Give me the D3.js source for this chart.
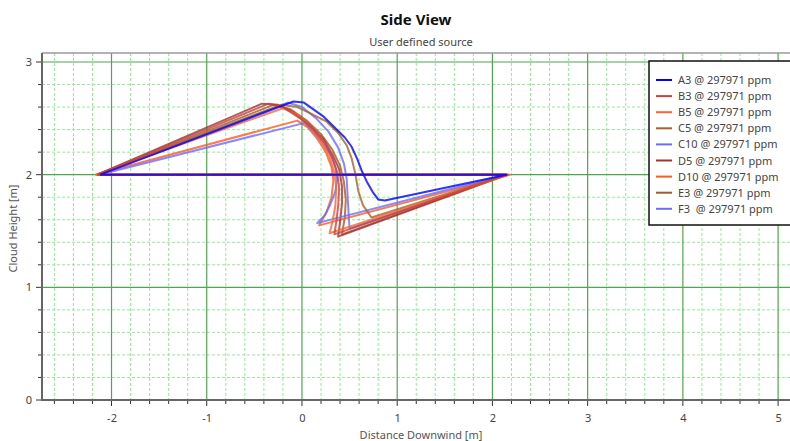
<!DOCTYPE html>
<html>
<head>
    <meta charset="utf-8">
    <title>Side View</title>
    <script src="https://d3js.org/d3.v7.min.js"></script>
    <style>
        body { margin: 0; background: #fff; overflow: hidden; }
        text { font-family: "Noto Sans", "DejaVu Sans", sans-serif; fill: #333; }
        .grid-major { stroke: #4fa64f; stroke-width: 1.2; }
        .grid-minor { stroke: #9ae69a; stroke-width: 1; stroke-dasharray: 3,2; }
        .series { fill: none; stroke-width: 2; stroke-linejoin: round; stroke-opacity: 0.8; }
    </style>
</head>
<body>
<div id="chart"></div>
<script>
    // series names and colours (legend order)
    const seriesNames = ["A3", "B3", "B5", "C5", "C10", "D5", "D10", "E3", "F3 "];
    const seriesColors = ["#0000ff", "#c8413c", "#ff6430", "#a8622e", "#6c6cff", "#a83030", "#ff5a1e", "#9c5a30", "#6c6cff"];
    const ppm = "297971";

    // cloud outline points [distance downwind, height]
    const A3 = [[-2.12,2.0],[-0.09,2.65],[0.02,2.64],[0.12,2.58],[0.22,2.52],[0.33,2.43],[0.45,2.33],[0.52,2.25],[0.58,2.14],[0.63,2.03],[0.68,1.94],[0.74,1.85],[0.80,1.78],[0.87,1.77],[2.15,2.0],[-2.12,2.0]];
    const B3 = [[-2.15,2.0],[-0.35,2.63],[-0.2,2.6],[-0.02,2.5],[0.12,2.4],[0.24,2.28],[0.32,2.15],[0.37,2.02],[0.39,1.88],[0.38,1.72],[0.36,1.58],[0.34,1.47],[2.15,2.0],[-2.15,2.0]];
    const B5 = [[-2.16,2.0],[-0.2,2.59],[-0.06,2.54],[0.08,2.43],[0.2,2.3],[0.29,2.16],[0.34,2.02],[0.36,1.88],[0.35,1.72],[0.32,1.58],[0.29,1.48],[2.17,2.0],[-2.16,2.0]];
    const C5 = [[-2.15,2.0],[-0.22,2.62],[-0.05,2.6],[0.1,2.54],[0.26,2.47],[0.38,2.37],[0.47,2.26],[0.52,2.15],[0.56,2.01],[0.59,1.86],[0.64,1.73],[0.73,1.62],[2.15,2.0],[-2.15,2.0]];
    const C10 = [[-2.13,2.0],[0.03,2.46],[0.12,2.38],[0.22,2.28],[0.3,2.18],[0.35,2.07],[0.37,1.96],[0.35,1.85],[0.3,1.74],[0.24,1.64],[0.16,1.57],[2.14,2.0],[-2.13,2.0]];
    const D5 = [[-2.15,2.0],[-0.42,2.63],[-0.25,2.62],[-0.08,2.55],[0.08,2.44],[0.22,2.32],[0.32,2.18],[0.39,2.05],[0.42,1.9],[0.42,1.74],[0.4,1.58],[0.38,1.45],[2.16,2.0],[-2.15,2.0]];
    const D10 = [[-2.17,2.0],[-0.05,2.48],[0.06,2.42],[0.16,2.32],[0.25,2.2],[0.31,2.07],[0.33,1.95],[0.31,1.8],[0.26,1.67],[0.18,1.55],[2.18,2.0],[-2.17,2.0]];
    const E3 = [[-2.15,2.0],[-0.3,2.62],[-0.12,2.58],[0.05,2.48],[0.2,2.36],[0.32,2.22],[0.4,2.08],[0.44,1.94],[0.46,1.78],[0.45,1.62],[0.42,1.47],[2.15,2.0],[-2.15,2.0]];
    const F3 = [[-2.14,2.0],[-0.15,2.64],[0.0,2.6],[0.15,2.5],[0.28,2.38],[0.38,2.24],[0.44,2.1],[0.47,1.96],[0.48,1.8],[0.49,1.65],[0.5,1.52],[2.15,2.0],[-2.14,2.0]];
    const seriesPoints = [A3, B3, B5, C5, C10, D5, D10, E3, F3];

    // axis ticks
    const xTicks = [-2, -1, 0, 1, 2, 3, 4, 5];
    const yTicks = [0, 1, 2, 3];

    const width = 790, height = 441;
    const plotLeft = 42, plotRight = 800, plotTop = 53, plotBottom = 400;

    const svg = d3.select("#chart").append("svg")
        .attr("width", width)
        .attr("height", height);

    const x = d3.scaleLinear().domain([-2.73, 5.23]).range([plotLeft, plotRight]);
    const y = d3.scaleLinear().domain([0, 3.08]).range([plotBottom, plotTop]);

    // minor grid every 0.2
    const xMinor = d3.range(-2.6, 5.21, 0.2).map(v => +v.toFixed(1)).filter(v => !xTicks.includes(v));
    const yMinor = d3.range(0.2, 3.01, 0.2).map(v => +v.toFixed(1)).filter(v => !yTicks.includes(v));

    svg.append("g").selectAll("line").data(xMinor).enter().append("line")
        .attr("class", "grid-minor")
        .attr("x1", d => x(d)).attr("x2", d => x(d))
        .attr("y1", plotTop).attr("y2", plotBottom);
    svg.append("g").selectAll("line").data(yMinor).enter().append("line")
        .attr("class", "grid-minor")
        .attr("x1", plotLeft).attr("x2", plotRight)
        .attr("y1", d => y(d)).attr("y2", d => y(d));

    // major grid
    svg.append("g").selectAll("line").data(xTicks).enter().append("line")
        .attr("class", "grid-major")
        .attr("x1", d => x(d)).attr("x2", d => x(d))
        .attr("y1", plotTop).attr("y2", plotBottom);
    svg.append("g").selectAll("line").data(yTicks.filter(v => v > 0)).enter().append("line")
        .attr("class", "grid-major")
        .attr("x1", plotLeft).attr("x2", plotRight)
        .attr("y1", d => y(d)).attr("y2", d => y(d));

    // top frame
    svg.append("line")
        .attr("x1", plotLeft).attr("x2", plotRight)
        .attr("y1", plotTop).attr("y2", plotTop)
        .style("stroke", "#9a9a9a").style("stroke-width", 1.5);

    // curves, drawn last-to-first so A3 ends on top
    svg.append("clipPath").attr("id", "plot-clip")
        .append("rect").attr("x", plotLeft).attr("y", plotTop)
        .attr("width", plotRight - plotLeft).attr("height", plotBottom - plotTop);

    const line = d3.line().x(d => x(d[0])).y(d => y(d[1]));
    const plot = svg.append("g").attr("clip-path", "url(#plot-clip)");
    for (let i = seriesPoints.length - 1; i >= 0; i--) {
        plot.append("path")
            .attr("class", "series")
            .attr("d", line(seriesPoints[i]))
            .style("stroke", seriesColors[i]);
    }

    // axes (plain hyphen for negatives, like the original)
    const xAxis = d3.axisBottom(x).tickValues(xTicks).tickSize(0).tickPadding(14).tickFormat(d => String(d));
    const gx = svg.append("g").attr("transform", `translate(0,${plotBottom})`).call(xAxis);
    gx.select(".domain").remove();
    gx.selectAll("text").style("font-size", "11px").style("fill", "#444");

    const yAxis = d3.axisLeft(y).tickValues(yTicks).tickSize(0).tickPadding(10).tickFormat(d => String(d));
    const gy = svg.append("g").attr("transform", `translate(${plotLeft},0)`).call(yAxis);
    gy.select(".domain").remove();
    gy.selectAll("text").style("font-size", "11px").style("fill", "#444");

    // small tick marks every 0.2
    svg.append("g").selectAll("line").data(xMinor.concat(xTicks)).enter().append("line")
        .attr("x1", d => x(d)).attr("x2", d => x(d))
        .attr("y1", plotBottom).attr("y2", d => xTicks.includes(d) ? plotBottom + 6 : plotBottom + 4)
        .style("stroke", "#333").style("stroke-width", 1);
    svg.append("g").selectAll("line").data(yMinor.concat(yTicks)).enter().append("line")
        .attr("x1", d => yTicks.includes(d) ? plotLeft - 6 : plotLeft - 4).attr("x2", plotLeft)
        .attr("y1", d => y(d)).attr("y2", d => y(d))
        .style("stroke", "#333").style("stroke-width", 1);

    // axis lines
    svg.append("line")
        .attr("x1", plotLeft).attr("x2", plotRight).attr("y1", plotBottom).attr("y2", plotBottom)
        .style("stroke", "#666").style("stroke-width", 2);
    svg.append("line")
        .attr("x1", plotLeft).attr("x2", plotLeft).attr("y1", plotTop).attr("y2", plotBottom + 1)
        .style("stroke", "#666").style("stroke-width", 2);

    // titles
    svg.append("text").attr("x", 416).attr("y", 25)
        .attr("text-anchor", "middle")
        .style("font-size", "15px").style("font-weight", "bold").style("fill", "#111")
        .text("Side View");
    svg.append("text").attr("x", 421).attr("y", 46)
        .attr("text-anchor", "middle")
        .style("font-size", "11px").style("fill", "#444")
        .text("User defined source");
    svg.append("text").attr("x", 421).attr("y", 439)
        .attr("text-anchor", "middle")
        .style("font-size", "11px").style("fill", "#555")
        .text("Distance Downwind [m]");
    svg.append("text")
        .attr("transform", `translate(17,${(plotTop + plotBottom) / 2 + 2}) rotate(-90)`)
        .attr("text-anchor", "middle")
        .style("font-size", "11px").style("fill", "#555")
        .text("Cloud Height [m]");

    // legend
    const legend = svg.append("g").attr("transform", "translate(649,61)");
    legend.append("rect")
        .attr("width", 160).attr("height", 164)
        .style("fill", "#fff").style("stroke", "#111").style("stroke-width", 1.5);
    seriesNames.forEach((name, i) => {
        const ly = 19 + i * 16.1;
        legend.append("line")
            .attr("x1", 7).attr("x2", 23).attr("y1", ly).attr("y2", ly)
            .style("stroke", seriesColors[i]).style("stroke-width", 2);
        legend.append("text")
            .attr("x", 29).attr("y", ly + 4)
            .attr("xml:space", "preserve")
            .style("white-space", "pre")
            .style("font-size", "11px").style("fill", "#444")
            .text(`${name} @ ${ppm} ppm`);
    });
</script>
</body>
</html>
